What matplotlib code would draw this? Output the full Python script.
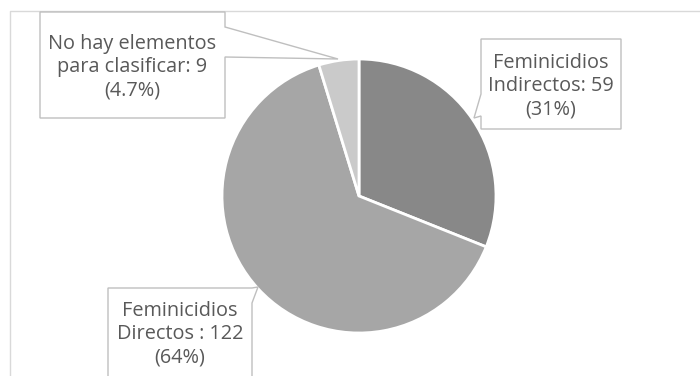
import matplotlib
matplotlib.use("Agg")
import matplotlib.pyplot as plt
from matplotlib.patches import Polygon

names = ["Feminicidios\nIndirectos", "Feminicidios\nDirectos ", "No hay elementos\npara clasificar"]
values = [59, 122, 9]
pct_labels = ["31%", "64%", "4.7%"]
colors = ["#888888", "#a6a6a6", "#cacaca"]

W, H = 700, 376
fig = plt.figure(figsize=(W / 100, H / 100), dpi=100)
ax = fig.add_axes([0, 0, 1, 1])

cx, cy, r = 359, 196, 137
# y axis is flipped below, so -90 / counterclock renders as top / clockwise
wedges, _ = ax.pie(values, colors=colors, startangle=-90, counterclock=True,
                   center=(cx, cy), radius=r, frame=True,
                   wedgeprops=dict(edgecolor="white", linewidth=2))
ax.set_xlim(0, W)
ax.set_ylim(H, 0)
ax.set_aspect("equal")
ax.axis("off")

# outer chart frame (only left and top visible)
ax.plot([9.5, 9.5, W], [H, 10.5, 10.5], color="#d9d9d9", lw=1)

# callout boxes: (x0, y0, x1, y1), pointer side, base start/end, tip, text centre y
callouts = [
    dict(box=(481, 39, 621, 129), side="left", base=(94, 116), tip=(474, 118), ty=86),
    dict(box=(108, 288, 252, 390), side="right", base=(288, 303), tip=(258, 287), ty=334),
    dict(box=(40, 12, 225, 118), side="right", base=(27, 57), tip=(338, 59), ty=67),
]

for name, v, p, c in zip(names, values, pct_labels, callouts):
    x0, y0, x1, y1 = c["box"]
    b0, b1 = c["base"]
    if c["side"] == "left":
        pts = [(x0, y0), (x1, y0), (x1, y1), (x0, y1), (x0, b1), c["tip"], (x0, b0)]
    else:
        pts = [(x0, y0), (x1, y0), (x1, b0), c["tip"], (x1, b1), (x1, y1), (x0, y1)]
    ax.add_patch(Polygon(pts, closed=True, facecolor="white", edgecolor="#bfbfbf",
                         lw=1, zorder=5))
    ax.text((x0 + x1) / 2, c["ty"], f"{name}: {v}\n({p})",
            ha="center", va="center", fontsize=14.3, family="Open Sans",
            color="#595959", linespacing=1.22, zorder=6)

fig.savefig("out.png", dpi=100)
